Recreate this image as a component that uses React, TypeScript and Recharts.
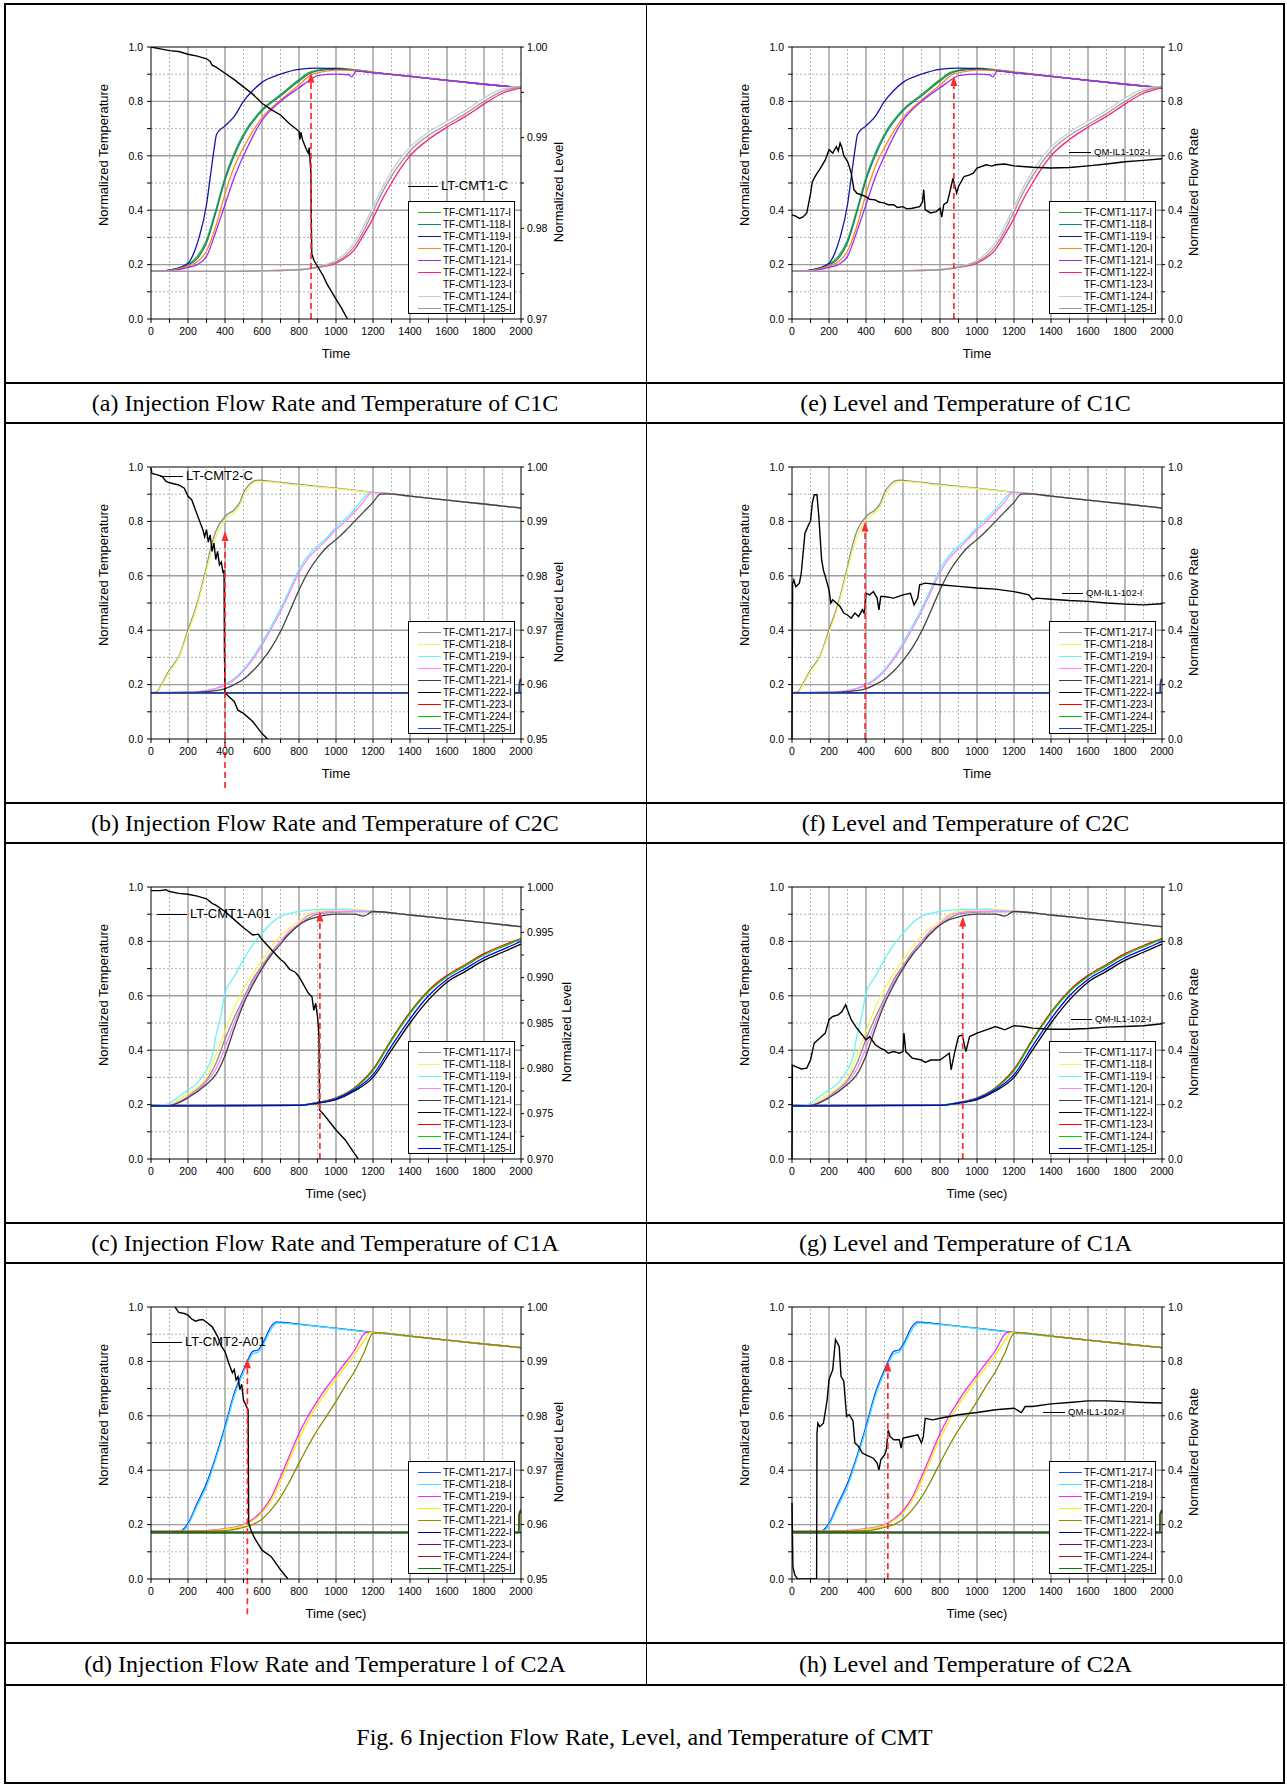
import React from "react";
import { LineChart, Line, XAxis, YAxis, ReferenceLine } from "recharts";

// ── Fig. 6 — CMT injection flow rate / level / temperature (8 panels in a table) ──

type Pt = [number, number];
type Series = { name: string; color: string; pts: Pt[] };

const FONT = '"Liberation Sans", Arial, Helvetica, sans-serif';
const SERIF = '"Liberation Serif", "Times New Roman", Times, serif';
const RED = "#ff2a2a";

// axes / ticks
const TIME_TICKS = [0, 100, 200, 300, 400, 500, 600, 700, 800, 900, 1000, 1100, 1200, 1300, 1400, 1500, 1600, 1700, 1800, 1900, 2000];
const TIME_LABELS = [0, 200, 400, 600, 800, 1000, 1200, 1400, 1600, 1800, 2000];
const UNIT_TICKS = [0, 0.1, 0.2, 0.3, 0.4, 0.5, 0.6, 0.7, 0.8, 0.9, 1.0];
const UNIT_LABELS = [0, 0.2, 0.4, 0.6, 0.8, 1.0];
const LEVEL_TICKS_C1C = [0.97, 0.975, 0.98, 0.985, 0.99, 0.995, 1.0];
const LEVEL_LABELS_C1C = [0.97, 0.98, 0.99, 1.0];
const LEVEL_TICKS_C2 = [0.95, 0.955, 0.96, 0.965, 0.97, 0.975, 0.98, 0.985, 0.99, 0.995, 1.0];
const LEVEL_LABELS_C2 = [0.95, 0.96, 0.97, 0.98, 0.99, 1.0];
const LEVEL_TICKS_C1A = [0.97, 0.9725, 0.975, 0.9775, 0.98, 0.9825, 0.985, 0.9875, 0.99, 0.9925, 0.995, 0.9975, 1.0];
const LEVEL_LABELS_C1A = [0.97, 0.975, 0.98, 0.985, 0.99, 0.995, 1.0];

const GRID_X_MAJOR = [200, 400, 600, 800, 1000, 1200, 1400, 1600, 1800];
const GRID_X_MINOR = [100, 300, 500, 700, 900, 1100, 1300, 1500, 1700, 1900];
const GRID_Y_MAJOR = [0.2, 0.4, 0.6, 0.8];
const GRID_Y_MINOR = [0.1, 0.3, 0.5, 0.7, 0.9];

// ── C1C temperatures (a, e) ──
const C1C_117: Pt[] = [[0, 0.175], [100, 0.18], [200, 0.2], [250, 0.23], [300, 0.29], [350, 0.4], [400, 0.52], [450, 0.61], [500, 0.68], [600, 0.77], [700, 0.825], [800, 0.88], [850, 0.905], [900, 0.915], [1000, 0.922], [1100, 0.917], [1200, 0.908], [1400, 0.893], [1600, 0.878], [1800, 0.864], [2000, 0.851]];
const C1C_118: Pt[] = [[0, 0.175], [100, 0.18], [200, 0.198], [250, 0.222], [300, 0.28], [350, 0.39], [400, 0.51], [450, 0.6], [500, 0.672], [600, 0.765], [700, 0.82], [800, 0.875], [850, 0.9], [900, 0.912], [1000, 0.919], [1100, 0.915], [1200, 0.906], [1400, 0.892], [1600, 0.877], [1800, 0.863], [2000, 0.851]];
const C1C_119: Pt[] = [[0, 0.175], [100, 0.18], [200, 0.205], [230, 0.24], [260, 0.3], [300, 0.42], [320, 0.52], [340, 0.62], [355, 0.68], [400, 0.71], [450, 0.745], [500, 0.8], [550, 0.84], [600, 0.87], [700, 0.9], [800, 0.918], [900, 0.922], [1000, 0.92], [1100, 0.913], [1200, 0.906], [1400, 0.892], [1600, 0.877], [1800, 0.863], [2000, 0.85]];
const C1C_120: Pt[] = [[0, 0.175], [100, 0.178], [200, 0.195], [250, 0.21], [300, 0.25], [350, 0.34], [400, 0.46], [450, 0.56], [500, 0.63], [600, 0.74], [700, 0.805], [800, 0.86], [870, 0.9], [900, 0.905], [1000, 0.915], [1100, 0.915], [1200, 0.907], [1400, 0.892], [1600, 0.877], [1800, 0.863], [2000, 0.851]];
const C1C_121: Pt[] = [[0, 0.175], [100, 0.177], [200, 0.19], [250, 0.2], [300, 0.23], [350, 0.32], [400, 0.42], [450, 0.52], [500, 0.6], [600, 0.73], [700, 0.8], [800, 0.85], [880, 0.888], [900, 0.895], [1000, 0.9], [1070, 0.898], [1085, 0.89], [1110, 0.912], [1200, 0.906], [1400, 0.892], [1600, 0.877], [1800, 0.863], [2000, 0.85]];
const C1C_122: Pt[] = [[0, 0.175], [400, 0.175], [600, 0.177], [800, 0.181], [900, 0.19], [1000, 0.205], [1050, 0.225], [1100, 0.255], [1150, 0.31], [1200, 0.37], [1250, 0.44], [1300, 0.5], [1350, 0.555], [1400, 0.6], [1500, 0.66], [1600, 0.705], [1700, 0.745], [1800, 0.79], [1900, 0.83], [2000, 0.85]];
const C1C_123: Pt[] = [[0, 0.175], [400, 0.175], [600, 0.177], [800, 0.182], [900, 0.192], [1000, 0.213], [1050, 0.237], [1100, 0.275], [1150, 0.335], [1200, 0.405], [1250, 0.475], [1300, 0.535], [1350, 0.585], [1400, 0.627], [1500, 0.682], [1600, 0.722], [1700, 0.762], [1800, 0.807], [1900, 0.843], [2000, 0.854]];
const C1C_124: Pt[] = [[0, 0.175], [400, 0.175], [600, 0.177], [800, 0.182], [900, 0.193], [1000, 0.216], [1050, 0.242], [1100, 0.282], [1150, 0.342], [1200, 0.412], [1250, 0.482], [1300, 0.542], [1350, 0.592], [1400, 0.632], [1500, 0.687], [1600, 0.727], [1700, 0.767], [1800, 0.812], [1900, 0.846], [2000, 0.855]];
const C1C_125: Pt[] = [[0, 0.175], [400, 0.175], [600, 0.177], [800, 0.181], [900, 0.191], [1000, 0.21], [1050, 0.232], [1100, 0.268], [1150, 0.325], [1200, 0.395], [1250, 0.465], [1300, 0.525], [1350, 0.575], [1400, 0.618], [1500, 0.675], [1600, 0.715], [1700, 0.755], [1800, 0.8], [1900, 0.838], [2000, 0.853]];

// ── C2C temperatures (b, f) ──
const C2C_217: Pt[] = [[0, 0.17], [30, 0.172], [60, 0.205], [100, 0.254], [150, 0.303], [200, 0.401], [250, 0.5], [300, 0.634], [330, 0.72], [350, 0.763], [400, 0.818], [450, 0.843], [480, 0.87], [500, 0.905], [530, 0.935], [560, 0.95], [580, 0.952], [600, 0.951], [800, 0.936], [1000, 0.922], [1200, 0.907], [1400, 0.893], [1600, 0.878], [1800, 0.864], [2000, 0.849]];
const C2C_218: Pt[] = [[0, 0.17], [30, 0.17], [60, 0.2], [100, 0.248], [150, 0.298], [200, 0.39], [250, 0.49], [300, 0.62], [330, 0.7], [350, 0.74], [400, 0.805], [450, 0.833], [480, 0.86], [500, 0.89], [530, 0.925], [560, 0.943], [600, 0.946], [800, 0.933], [1000, 0.92], [1200, 0.906], [1400, 0.892], [1600, 0.878], [1800, 0.864], [2000, 0.849]];
const C2C_219: Pt[] = [[0, 0.17], [200, 0.172], [300, 0.178], [400, 0.2], [450, 0.222], [500, 0.256], [550, 0.3], [600, 0.355], [650, 0.415], [700, 0.48], [750, 0.55], [800, 0.625], [850, 0.675], [900, 0.71], [950, 0.74], [1000, 0.78], [1050, 0.81], [1100, 0.845], [1150, 0.885], [1180, 0.905], [1200, 0.907], [1400, 0.893], [1600, 0.878], [1800, 0.864], [2000, 0.849]];
const C2C_220: Pt[] = [[0, 0.17], [200, 0.172], [300, 0.178], [400, 0.198], [450, 0.218], [500, 0.25], [550, 0.292], [600, 0.345], [650, 0.405], [700, 0.468], [750, 0.54], [800, 0.612], [850, 0.665], [900, 0.7], [950, 0.733], [1000, 0.77], [1050, 0.8], [1100, 0.835], [1150, 0.872], [1190, 0.906], [1200, 0.907], [1400, 0.893], [1600, 0.878], [1800, 0.864], [2000, 0.849]];
const C2C_221: Pt[] = [[0, 0.17], [200, 0.171], [300, 0.174], [400, 0.185], [450, 0.2], [500, 0.22], [550, 0.25], [600, 0.288], [650, 0.335], [700, 0.395], [750, 0.47], [800, 0.548], [850, 0.615], [900, 0.665], [950, 0.705], [1000, 0.733], [1050, 0.765], [1100, 0.8], [1150, 0.835], [1200, 0.87], [1240, 0.9], [1280, 0.901], [1400, 0.893], [1600, 0.878], [1800, 0.864], [2000, 0.849]];
const C2C_222: Pt[] = [[0, 0.17], [1000, 0.17], [2000, 0.17]];
const C2C_223: Pt[] = [[0, 0.17], [1000, 0.17], [1990, 0.17], [1992, 0.214], [2000, 0.222]];
const C2C_224: Pt[] = [[0, 0.17], [1000, 0.17], [1990, 0.17], [1992, 0.21], [2000, 0.218]];
const C2C_225: Pt[] = [[0, 0.17], [1000, 0.17], [1990, 0.17], [1992, 0.207], [2000, 0.215]];

// ── C1A temperatures (c, g) ──
const C1A_117: Pt[] = [[0, 0.195], [100, 0.198], [200, 0.23], [250, 0.258], [300, 0.29], [350, 0.35], [400, 0.44], [450, 0.52], [500, 0.59], [550, 0.66], [600, 0.71], [650, 0.76], [700, 0.8], [750, 0.83], [800, 0.86], [850, 0.885], [900, 0.9], [1000, 0.908], [1100, 0.91], [1200, 0.91], [1400, 0.897], [1600, 0.883], [1800, 0.869], [2000, 0.854]];
const C1A_118: Pt[] = [[0, 0.195], [100, 0.2], [200, 0.24], [250, 0.262], [300, 0.3], [350, 0.38], [400, 0.47], [450, 0.555], [500, 0.625], [550, 0.68], [600, 0.73], [650, 0.78], [700, 0.82], [750, 0.85], [800, 0.875], [850, 0.9], [900, 0.91], [1000, 0.915], [1050, 0.92], [1100, 0.918], [1200, 0.912], [1400, 0.897], [1600, 0.883], [1800, 0.869], [2000, 0.854]];
const C1A_119: Pt[] = [[0, 0.195], [80, 0.2], [100, 0.205], [150, 0.23], [200, 0.254], [250, 0.279], [300, 0.328], [330, 0.377], [350, 0.45], [380, 0.536], [400, 0.61], [450, 0.671], [500, 0.733], [550, 0.788], [600, 0.83], [650, 0.867], [700, 0.892], [800, 0.91], [900, 0.917], [1000, 0.918], [1100, 0.915], [1200, 0.91], [1400, 0.897], [1600, 0.883], [1800, 0.869], [2000, 0.854]];
const C1A_120: Pt[] = [[0, 0.195], [100, 0.198], [200, 0.228], [300, 0.285], [350, 0.33], [400, 0.41], [450, 0.5], [500, 0.58], [550, 0.65], [600, 0.705], [650, 0.755], [700, 0.8], [750, 0.84], [800, 0.865], [850, 0.895], [900, 0.905], [1000, 0.91], [1200, 0.91], [1400, 0.897], [1600, 0.883], [1800, 0.869], [2000, 0.854]];
const C1A_121: Pt[] = [[0, 0.195], [100, 0.197], [200, 0.225], [300, 0.275], [350, 0.31], [400, 0.38], [450, 0.48], [500, 0.57], [550, 0.64], [600, 0.7], [650, 0.75], [700, 0.79], [750, 0.83], [800, 0.86], [850, 0.88], [900, 0.89], [1000, 0.9], [1100, 0.9], [1150, 0.893], [1200, 0.91], [1400, 0.897], [1600, 0.883], [1800, 0.869], [2000, 0.854]];
const C1A_122: Pt[] = [[0, 0.195], [800, 0.197], [900, 0.205], [1000, 0.218], [1100, 0.25], [1200, 0.3], [1300, 0.4], [1400, 0.5], [1500, 0.585], [1600, 0.65], [1700, 0.69], [1800, 0.73], [1900, 0.76], [2000, 0.79]];
const C1A_123: Pt[] = [[0, 0.195], [800, 0.198], [900, 0.208], [1000, 0.225], [1100, 0.262], [1200, 0.33], [1300, 0.44], [1400, 0.54], [1500, 0.62], [1600, 0.675], [1700, 0.715], [1800, 0.755], [1900, 0.785], [2000, 0.81]];
const C1A_124: Pt[] = [[0, 0.195], [800, 0.198], [900, 0.207], [1000, 0.223], [1100, 0.26], [1200, 0.325], [1300, 0.435], [1400, 0.535], [1500, 0.615], [1600, 0.67], [1700, 0.71], [1800, 0.75], [1900, 0.78], [2000, 0.808]];
const C1A_125: Pt[] = [[0, 0.195], [800, 0.197], [900, 0.206], [1000, 0.221], [1100, 0.255], [1200, 0.31], [1300, 0.415], [1400, 0.515], [1500, 0.6], [1600, 0.66], [1700, 0.7], [1800, 0.74], [1900, 0.77], [2000, 0.8]];

// ── C2A temperatures (d, h) ──
const C2A_217: Pt[] = [[0, 0.175], [150, 0.175], [170, 0.18], [200, 0.205], [250, 0.279], [300, 0.352], [350, 0.45], [400, 0.561], [450, 0.683], [500, 0.769], [520, 0.8], [550, 0.837], [580, 0.843], [600, 0.861], [650, 0.929], [680, 0.945], [700, 0.944], [800, 0.937], [1000, 0.922], [1200, 0.907], [1400, 0.893], [1600, 0.878], [1800, 0.864], [2000, 0.851]];
const C2A_218: Pt[] = [[0, 0.175], [160, 0.175], [180, 0.18], [200, 0.198], [250, 0.27], [300, 0.34], [350, 0.44], [400, 0.55], [450, 0.672], [500, 0.76], [520, 0.79], [550, 0.827], [580, 0.835], [600, 0.853], [650, 0.918], [680, 0.94], [700, 0.941], [800, 0.935], [1000, 0.921], [1200, 0.906], [1400, 0.892], [1600, 0.878], [1800, 0.864], [2000, 0.85]];
const C2A_219: Pt[] = [[0, 0.175], [300, 0.178], [400, 0.185], [500, 0.2], [550, 0.22], [600, 0.25], [650, 0.3], [700, 0.375], [750, 0.455], [800, 0.535], [850, 0.6], [900, 0.655], [950, 0.705], [1000, 0.75], [1050, 0.795], [1100, 0.84], [1150, 0.9], [1170, 0.908], [1200, 0.907], [1400, 0.893], [1600, 0.878], [1800, 0.864], [2000, 0.851]];
const C2A_220: Pt[] = [[0, 0.175], [300, 0.177], [400, 0.183], [500, 0.197], [550, 0.215], [600, 0.243], [650, 0.29], [700, 0.36], [750, 0.44], [800, 0.515], [850, 0.583], [900, 0.64], [950, 0.69], [1000, 0.735], [1050, 0.78], [1100, 0.825], [1150, 0.875], [1185, 0.907], [1200, 0.907], [1400, 0.893], [1600, 0.878], [1800, 0.864], [2000, 0.851]];
const C2A_221: Pt[] = [[0, 0.175], [400, 0.178], [500, 0.19], [550, 0.2], [600, 0.22], [650, 0.255], [700, 0.3], [750, 0.36], [800, 0.426], [850, 0.49], [900, 0.548], [950, 0.6], [1000, 0.653], [1050, 0.71], [1100, 0.763], [1150, 0.83], [1200, 0.904], [1220, 0.906], [1400, 0.893], [1600, 0.878], [1800, 0.864], [2000, 0.851]];
const C2A_222: Pt[] = [[0, 0.171], [1000, 0.171], [2000, 0.171]];
const C2A_223: Pt[] = [[0, 0.171], [1000, 0.171], [1988, 0.171], [1990, 0.238], [2000, 0.248]];
const C2A_224: Pt[] = [[0, 0.171], [1000, 0.171], [1988, 0.171], [1990, 0.242], [2000, 0.255]];
const C2A_225: Pt[] = [[0, 0.171], [1000, 0.171], [1988, 0.171], [1990, 0.236], [2000, 0.246]];

// ── CMT level (right axis, a–d) ──
const LT_CMT1_C: Pt[] = [[0, 1.0], [50, 0.9998], [100, 0.9996], [150, 0.9995], [200, 0.9992], [250, 0.999], [300, 0.9987], [320, 0.9984], [330, 0.998], [350, 0.9978], [400, 0.9971], [450, 0.9964], [500, 0.9956], [550, 0.9948], [600, 0.9938], [650, 0.9931], [700, 0.9925], [750, 0.9915], [800, 0.9907], [805, 0.9898], [810, 0.9906], [820, 0.9897], [840, 0.9887], [850, 0.9883], [855, 0.9889], [860, 0.9875], [864, 0.9862], [866, 0.982], [869, 0.9772], [880, 0.9765], [900, 0.9758], [930, 0.9748], [950, 0.9739], [1000, 0.9722], [1030, 0.9712], [1062, 0.97]];
const LT_CMT2_C: Pt[] = [[0, 0.9998], [5, 0.9988], [30, 0.9986], [60, 0.9983], [80, 0.9974], [100, 0.9971], [150, 0.9967], [180, 0.9961], [200, 0.9946], [220, 0.994], [250, 0.9912], [280, 0.9885], [290, 0.9872], [300, 0.9885], [310, 0.9862], [320, 0.9875], [330, 0.9845], [340, 0.986], [350, 0.983], [360, 0.9845], [370, 0.982], [380, 0.9825], [390, 0.9805], [395, 0.981], [397, 0.966], [400, 0.9585], [420, 0.9578], [450, 0.9569], [470, 0.9553], [500, 0.9547], [550, 0.9532], [600, 0.951], [630, 0.95]];
const LT_CMT1_A01: Pt[] = [[0, 0.9996], [50, 0.9996], [80, 0.9997], [100, 0.9995], [150, 0.9993], [200, 0.9992], [250, 0.999], [300, 0.9987], [330, 0.9982], [350, 0.998], [400, 0.9973], [450, 0.9964], [500, 0.9955], [520, 0.9952], [550, 0.9947], [580, 0.9948], [600, 0.9942], [650, 0.9931], [700, 0.992], [720, 0.9917], [750, 0.9909], [780, 0.9906], [800, 0.9901], [820, 0.9894], [850, 0.9883], [870, 0.9879], [880, 0.9864], [890, 0.9872], [900, 0.9857], [905, 0.9846], [908, 0.9835], [911, 0.9754], [930, 0.975], [950, 0.9745], [1000, 0.9732], [1050, 0.9721], [1100, 0.9706], [1120, 0.97]];
const LT_CMT2_A01: Pt[] = [[130, 1.0], [150, 0.999], [180, 0.9988], [200, 0.9985], [220, 0.9978], [240, 0.9974], [260, 0.9976], [280, 0.9977], [300, 0.9972], [330, 0.9964], [360, 0.9946], [380, 0.9928], [400, 0.9918], [420, 0.9897], [440, 0.9879], [450, 0.9885], [460, 0.9866], [470, 0.9872], [480, 0.9848], [490, 0.9858], [500, 0.9829], [510, 0.9822], [520, 0.9814], [525, 0.9811], [528, 0.9603], [540, 0.959], [560, 0.9575], [600, 0.9553], [650, 0.9541], [700, 0.9517], [740, 0.95]];

// ── injection flow rate (right axis, e–h) ──
const QM_C1C: Pt[] = [[0, 0.383], [20, 0.378], [40, 0.37], [60, 0.375], [80, 0.39], [100, 0.46], [110, 0.505], [130, 0.53], [150, 0.55], [180, 0.585], [200, 0.622], [220, 0.61], [240, 0.634], [250, 0.618], [260, 0.647], [270, 0.63], [280, 0.6], [300, 0.58], [310, 0.56], [320, 0.536], [335, 0.475], [350, 0.463], [380, 0.455], [400, 0.45], [420, 0.44], [450, 0.438], [470, 0.43], [500, 0.426], [520, 0.42], [550, 0.42], [570, 0.41], [600, 0.413], [620, 0.405], [650, 0.407], [690, 0.413], [705, 0.43], [712, 0.475], [720, 0.401], [750, 0.39], [780, 0.395], [800, 0.407], [810, 0.375], [820, 0.42], [840, 0.43], [860, 0.487], [870, 0.518], [880, 0.49], [890, 0.463], [900, 0.487], [930, 0.524], [960, 0.53], [980, 0.536], [1000, 0.555], [1050, 0.567], [1080, 0.562], [1100, 0.567], [1150, 0.57], [1200, 0.563], [1300, 0.558], [1400, 0.555], [1500, 0.557], [1600, 0.563], [1700, 0.57], [1800, 0.578], [1900, 0.583], [2000, 0.589]];
const QM_C2C: Pt[] = [[0, 0], [3, 0.57], [10, 0.585], [20, 0.56], [40, 0.573], [50, 0.61], [70, 0.757], [90, 0.788], [100, 0.8], [110, 0.868], [120, 0.898], [135, 0.898], [145, 0.818], [160, 0.66], [170, 0.62], [180, 0.598], [200, 0.548], [210, 0.5], [220, 0.512], [240, 0.5], [260, 0.487], [280, 0.463], [300, 0.456], [320, 0.444], [340, 0.463], [360, 0.45], [380, 0.475], [390, 0.463], [400, 0.536], [420, 0.53], [440, 0.542], [460, 0.518], [470, 0.475], [480, 0.524], [500, 0.524], [550, 0.518], [600, 0.53], [640, 0.536], [660, 0.493], [680, 0.518], [690, 0.567], [720, 0.573], [800, 0.567], [900, 0.561], [1000, 0.555], [1100, 0.551], [1200, 0.542], [1280, 0.53], [1300, 0.512], [1320, 0.518], [1400, 0.514], [1500, 0.509], [1600, 0.506], [1700, 0.5], [1800, 0.496], [1900, 0.493], [2000, 0.497]];
const QM_C1A: Pt[] = [[0, 0], [2, 0.345], [20, 0.34], [50, 0.331], [80, 0.334], [100, 0.364], [120, 0.426], [150, 0.444], [180, 0.463], [200, 0.512], [220, 0.524], [250, 0.53], [270, 0.542], [290, 0.567], [300, 0.548], [320, 0.512], [350, 0.481], [380, 0.456], [400, 0.438], [420, 0.45], [450, 0.42], [480, 0.407], [500, 0.401], [520, 0.389], [550, 0.395], [580, 0.389], [600, 0.395], [605, 0.463], [615, 0.395], [650, 0.371], [700, 0.364], [720, 0.355], [750, 0.364], [800, 0.364], [850, 0.389], [860, 0.328], [880, 0.395], [900, 0.45], [920, 0.456], [940, 0.395], [960, 0.45], [1000, 0.463], [1050, 0.475], [1100, 0.487], [1150, 0.475], [1200, 0.49], [1250, 0.487], [1300, 0.481], [1400, 0.477], [1500, 0.477], [1600, 0.48], [1700, 0.485], [1800, 0.487], [1900, 0.49], [2000, 0.497]];
const QM_C2A: Pt[] = [[0, 0.28], [5, 0.045], [15, 0.015], [25, 0.005], [30, 0], [133, 0], [135, 0.536], [140, 0.573], [150, 0.56], [170, 0.573], [190, 0.659], [200, 0.733], [220, 0.769], [235, 0.88], [245, 0.868], [255, 0.855], [265, 0.745], [280, 0.727], [295, 0.598], [310, 0.604], [330, 0.58], [340, 0.5], [360, 0.487], [380, 0.463], [400, 0.456], [420, 0.45], [440, 0.444], [460, 0.426], [470, 0.401], [480, 0.438], [500, 0.456], [510, 0.475], [520, 0.548], [530, 0.524], [550, 0.512], [580, 0.512], [590, 0.481], [600, 0.518], [640, 0.524], [680, 0.53], [700, 0.5], [710, 0.524], [720, 0.591], [760, 0.585], [800, 0.591], [900, 0.604], [1000, 0.612], [1100, 0.622], [1200, 0.628], [1240, 0.612], [1260, 0.634], [1300, 0.634], [1400, 0.644], [1500, 0.649], [1600, 0.655], [1700, 0.655], [1800, 0.652], [1900, 0.649], [2000, 0.647]];

// ── red dashed markers: time, from, to (temperature units) ──
const ARROW_A = { t: 865, from: 0, to: 0.905 };
const ARROW_B = { t: 400, from: -0.18, to: 0.765 };
const ARROW_C = { t: 913, from: 0, to: 0.91 };
const ARROW_D = { t: 521, from: -0.13, to: 0.812 };
const ARROW_E = { t: 875, from: 0, to: 0.893 };
const ARROW_F = { t: 395, from: 0, to: 0.8 };
const ARROW_G = { t: 923, from: 0, to: 0.892 };
const ARROW_H = { t: 518, from: 0, to: 0.8 };

const SET_C1C: Series[] = [
  { name: "TF-CMT1-117-I", color: "#2fa52f", pts: C1C_117 },
  { name: "TF-CMT1-118-I", color: "#0a8a7c", pts: C1C_118 },
  { name: "TF-CMT1-119-I", color: "#1616a6", pts: C1C_119 },
  { name: "TF-CMT1-120-I", color: "#ff8a1a", pts: C1C_120 },
  { name: "TF-CMT1-121-I", color: "#9a2cff", pts: C1C_121 },
  { name: "TF-CMT1-122-I", color: "#ff1a88", pts: C1C_122 },
  { name: "TF-CMT1-123-I", color: "#ffffff", pts: C1C_123 },
  { name: "TF-CMT1-124-I", color: "#cccccc", pts: C1C_124 },
  { name: "TF-CMT1-125-I", color: "#999999", pts: C1C_125 },
];
const SET_C2C: Series[] = [
  { name: "TF-CMT1-217-I", color: "#8c8c8c", pts: C2C_217 },
  { name: "TF-CMT1-218-I", color: "#f5f55a", pts: C2C_218 },
  { name: "TF-CMT1-219-I", color: "#66f4f4", pts: C2C_219 },
  { name: "TF-CMT1-220-I", color: "#ff80ff", pts: C2C_220 },
  { name: "TF-CMT1-221-I", color: "#404040", pts: C2C_221 },
  { name: "TF-CMT1-222-I", color: "#000000", pts: C2C_222 },
  { name: "TF-CMT1-223-I", color: "#ff0000", pts: C2C_223 },
  { name: "TF-CMT1-224-I", color: "#00cc00", pts: C2C_224 },
  { name: "TF-CMT1-225-I", color: "#2038c8", pts: C2C_225 },
];
const SET_C1A: Series[] = [
  { name: "TF-CMT1-117-I", color: "#8c8c8c", pts: C1A_117 },
  { name: "TF-CMT1-118-I", color: "#f5f55a", pts: C1A_118 },
  { name: "TF-CMT1-119-I", color: "#66f4f4", pts: C1A_119 },
  { name: "TF-CMT1-120-I", color: "#ff80ff", pts: C1A_120 },
  { name: "TF-CMT1-121-I", color: "#404040", pts: C1A_121 },
  { name: "TF-CMT1-122-I", color: "#000000", pts: C1A_122 },
  { name: "TF-CMT1-123-I", color: "#ff0000", pts: C1A_123 },
  { name: "TF-CMT1-124-I", color: "#00d000", pts: C1A_124 },
  { name: "TF-CMT1-125-I", color: "#0000ff", pts: C1A_125 },
];
const SET_C2A: Series[] = [
  { name: "TF-CMT1-217-I", color: "#1a3cff", pts: C2A_217 },
  { name: "TF-CMT1-218-I", color: "#33e4ff", pts: C2A_218 },
  { name: "TF-CMT1-219-I", color: "#ff22ff", pts: C2A_219 },
  { name: "TF-CMT1-220-I", color: "#f0f000", pts: C2A_220 },
  { name: "TF-CMT1-221-I", color: "#8c8c00", pts: C2A_221 },
  { name: "TF-CMT1-222-I", color: "#000080", pts: C2A_222 },
  { name: "TF-CMT1-223-I", color: "#800080", pts: C2A_223 },
  { name: "TF-CMT1-224-I", color: "#a01c1c", pts: C2A_224 },
  { name: "TF-CMT1-225-I", color: "#008000", pts: C2A_225 },
];

interface PanelCfg {
  col: 0 | 1;
  row: number;
  temps: Series[];
  black: Pt[];
  blackName: string;
  blackTag: { dx: number; dy: number; len: number; size: number };
  rightDomain: [number, number];
  rightTicks: number[];
  rightLabels: number[];
  rightDigits: number;
  rightTitle: string;
  rightTitleDx: number;
  xTitle: string;
  arrow: { t: number; from: number; to: number };
  caption: string;
}

const PANELS: PanelCfg[] = [
  { col: 0, row: 0, temps: SET_C1C, black: LT_CMT1_C, blackName: "LT-CMT1-C", blackTag: { dx: 257, dy: 139, len: 30, size: 13 }, rightDomain: [0.97, 1.0], rightTicks: LEVEL_TICKS_C1C, rightLabels: LEVEL_LABELS_C1C, rightDigits: 2, rightTitle: "Normalized Level", rightTitleDx: 37, xTitle: "Time", arrow: ARROW_A, caption: "(a) Injection Flow Rate and Temperature of C1C" },
  { col: 1, row: 0, temps: SET_C1C, black: QM_C1C, blackName: "QM-IL1-102-I", blackTag: { dx: 277, dy: 105, len: 22, size: 9.5 }, rightDomain: [0, 1], rightTicks: UNIT_TICKS, rightLabels: UNIT_LABELS, rightDigits: 1, rightTitle: "Normalized Flow Rate", rightTitleDx: 31, xTitle: "Time", arrow: ARROW_E, caption: "(e) Level and Temperature of C1C" },
  { col: 0, row: 1, temps: SET_C2C, black: LT_CMT2_C, blackName: "LT-CMT2-C", blackTag: { dx: 9, dy: 9, len: 23, size: 13 }, rightDomain: [0.95, 1.0], rightTicks: LEVEL_TICKS_C2, rightLabels: LEVEL_LABELS_C2, rightDigits: 2, rightTitle: "Normalized Level", rightTitleDx: 37, xTitle: "Time", arrow: ARROW_B, caption: "(b) Injection Flow Rate and Temperature of C2C" },
  { col: 1, row: 1, temps: SET_C2C, black: QM_C2C, blackName: "QM-IL1-102-I", blackTag: { dx: 270, dy: 126, len: 21, size: 9.5 }, rightDomain: [0, 1], rightTicks: UNIT_TICKS, rightLabels: UNIT_LABELS, rightDigits: 1, rightTitle: "Normalized Flow Rate", rightTitleDx: 31, xTitle: "Time", arrow: ARROW_F, caption: "(f) Level and Temperature of C2C" },
  { col: 0, row: 2, temps: SET_C1A, black: LT_CMT1_A01, blackName: "LT-CMT1-A01", blackTag: { dx: 6, dy: 27, len: 30, size: 13 }, rightDomain: [0.97, 1.0], rightTicks: LEVEL_TICKS_C1A, rightLabels: LEVEL_LABELS_C1A, rightDigits: 3, rightTitle: "Normalized Level", rightTitleDx: 45, xTitle: "Time (sec)", arrow: ARROW_C, caption: "(c) Injection Flow Rate and Temperature of C1A" },
  { col: 1, row: 2, temps: SET_C1A, black: QM_C1A, blackName: "QM-IL1-102-I", blackTag: { dx: 279, dy: 132, len: 21, size: 9.5 }, rightDomain: [0, 1], rightTicks: UNIT_TICKS, rightLabels: UNIT_LABELS, rightDigits: 1, rightTitle: "Normalized Flow Rate", rightTitleDx: 31, xTitle: "Time (sec)", arrow: ARROW_G, caption: "(g) Level and Temperature of C1A" },
  { col: 0, row: 3, temps: SET_C2A, black: LT_CMT2_A01, blackName: "LT-CMT2-A01", blackTag: { dx: 1, dy: 35, len: 30, size: 13 }, rightDomain: [0.95, 1.0], rightTicks: LEVEL_TICKS_C2, rightLabels: LEVEL_LABELS_C2, rightDigits: 2, rightTitle: "Normalized Level", rightTitleDx: 37, xTitle: "Time (sec)", arrow: ARROW_D, caption: "(d) Injection Flow Rate and Temperature l of C2A" },
  { col: 1, row: 3, temps: SET_C2A, black: QM_C2A, blackName: "QM-IL1-102-I", blackTag: { dx: 251, dy: 105, len: 22, size: 9.5 }, rightDomain: [0, 1], rightTicks: UNIT_TICKS, rightLabels: UNIT_LABELS, rightDigits: 1, rightTitle: "Normalized Flow Rate", rightTitleDx: 31, xTitle: "Time (sec)", arrow: ARROW_H, caption: "(h) Level and Temperature of C2A" },
];

const toRows = (pts: Pt[]) => pts.map(([t, v]) => ({ t, v }));
const hasLabel = (list: number[], v: number) => list.some((l) => Math.abs(l - v) < 1e-7);

// dashed red marker with an arrowhead at the top end
function ArrowShape(props: any) {
  const { x1, y1, y2 } = props;
  const top = Math.min(y1, y2);
  const bottom = Math.max(y1, y2);
  const head = 10;
  return (
    <g>
      <line x1={x1} y1={bottom} x2={x1} y2={top + head - 1} stroke={RED} strokeWidth={1.7} strokeDasharray="6 4" />
      <polygon points={`${x1},${top} ${x1 - 3.5},${top + head} ${x1 + 3.5},${top + head}`} fill={RED} />
    </g>
  );
}

const CELL_W = 646;
const CELL_H = 383;
const ROW_STEP = 420;
const PT = 47;
const PW = 370;
const PH = 272;
const AXIS_W = 40;
const XAXIS_H = 30;

function Panel({ p }: { p: PanelCfg }) {
  const PL = p.col === 0 ? 151 : 146;
  const margin = { top: PT, left: PL - AXIS_W, right: CELL_W - PL - PW - AXIS_W, bottom: CELL_H - PT - PH - XAXIS_H };
  const tick = { fontSize: 10.5, fill: "#000", fontFamily: FONT };
  const boxW = 107;
  const boxH = 113;
  const boxL = PL + PW - 6 - boxW;
  const boxT = PT + PH - 5 - boxH;
  const tag = p.blackTag;

  return (
    <div style={{ position: "absolute", left: p.col === 0 ? 0 : CELL_W, top: p.row * ROW_STEP, width: CELL_W, height: CELL_H }}>
      <LineChart width={CELL_W} height={CELL_H} margin={margin}>
        <XAxis
          dataKey="t"
          type="number"
          domain={[0, 2000]}
          ticks={TIME_TICKS}
          interval={0}
          tickFormatter={(v: number) => (hasLabel(TIME_LABELS, v) ? String(v) : "")}
          height={XAXIS_H}
          tick={tick}
          tickSize={4}
          tickMargin={5}
          axisLine={{ stroke: "#000" }}
          tickLine={{ stroke: "#000" }}
        />
        <YAxis
          yAxisId="l"
          orientation="left"
          type="number"
          domain={[0, 1]}
          ticks={UNIT_TICKS}
          interval={0}
          tickFormatter={(v: number) => (hasLabel(UNIT_LABELS, v) ? v.toFixed(1) : "")}
          width={AXIS_W}
          tick={tick}
          tickSize={4}
          tickMargin={4}
          axisLine={{ stroke: "#000" }}
          tickLine={{ stroke: "#000" }}
        />
        <YAxis
          yAxisId="r"
          orientation="right"
          type="number"
          domain={p.rightDomain}
          allowDataOverflow
          ticks={p.rightTicks}
          interval={0}
          tickFormatter={(v: number) => (hasLabel(p.rightLabels, v) ? v.toFixed(p.rightDigits) : "")}
          width={AXIS_W}
          tick={tick}
          tickSize={3}
          tickMargin={3}
          axisLine={{ stroke: "#000" }}
          tickLine={{ stroke: "#000" }}
        />

        {GRID_X_MINOR.map((x) => (
          <ReferenceLine key={"xm" + x} yAxisId="l" x={x} stroke="#ababab" strokeWidth={0.9} strokeDasharray="2 2" />
        ))}
        {GRID_Y_MINOR.map((y) => (
          <ReferenceLine key={"ym" + y} yAxisId="l" y={y} stroke="#ababab" strokeWidth={0.9} strokeDasharray="2 2" />
        ))}
        {GRID_X_MAJOR.map((x) => (
          <ReferenceLine key={"xM" + x} yAxisId="l" x={x} stroke="#9c9c9c" strokeWidth={1.4} />
        ))}
        {GRID_Y_MAJOR.map((y) => (
          <ReferenceLine key={"yM" + y} yAxisId="l" y={y} stroke="#9c9c9c" strokeWidth={1.4} />
        ))}

        {p.temps.map((s) => (
          <Line
            key={s.name}
            yAxisId="l"
            data={toRows(s.pts)}
            dataKey="v"
            name={s.name}
            type="monotone"
            stroke={s.color}
            strokeWidth={1.3}
            dot={false}
            isAnimationActive={false}
          />
        ))}
        <Line
          yAxisId="r"
          data={toRows(p.black)}
          dataKey="v"
          name={p.blackName}
          type="linear"
          stroke="#000"
          strokeWidth={1.4}
          dot={false}
          isAnimationActive={false}
        />

        <ReferenceLine yAxisId="l" y={1} stroke="#000" strokeWidth={1} />
        <ReferenceLine
          yAxisId="l"
          ifOverflow="visible"
          segment={[{ x: p.arrow.t, y: p.arrow.from }, { x: p.arrow.t, y: p.arrow.to }]}
          shape={ArrowShape}
        />
      </LineChart>

      {/* axis titles */}
      <div style={{ position: "absolute", left: PL - 48, top: PT + 108, transform: "translate(-50%,-50%) rotate(-90deg)", fontFamily: FONT, fontSize: 13, whiteSpace: "nowrap", color: "#000" }}>
        Normalized Temperature
      </div>
      <div style={{ position: "absolute", left: PL + PW + p.rightTitleDx, top: PT + 145, transform: "translate(-50%,-50%) rotate(-90deg)", fontFamily: FONT, fontSize: 13, whiteSpace: "nowrap", color: "#000" }}>
        {p.rightTitle}
      </div>
      <div style={{ position: "absolute", left: PL + PW / 2, top: PT + PH + 34, transform: "translate(-50%,-50%)", fontFamily: FONT, fontSize: 13, whiteSpace: "nowrap", color: "#000" }}>
        {p.xTitle}
      </div>

      {/* level / flow tag */}
      <div style={{ position: "absolute", left: PL + tag.dx, top: PT + tag.dy, width: tag.len, borderTop: "1.3px solid #000" }} />
      <div style={{ position: "absolute", left: PL + tag.dx + tag.len + 3, top: PT + tag.dy, transform: "translateY(-52%)", fontFamily: FONT, fontSize: tag.size, whiteSpace: "nowrap", color: "#000", lineHeight: 1 }}>
        {p.blackName}
      </div>

      {/* temperature legend */}
      <div style={{ position: "absolute", left: boxL, top: boxT, width: boxW, height: boxH, border: "1px solid #000", background: "#fff", boxSizing: "border-box" }}>
        {p.temps.map((s, i) => (
          <React.Fragment key={s.name}>
            <div style={{ position: "absolute", left: 9, top: 10.3 + 12 * i, width: 23, borderTop: `1.5px solid ${s.color}` }} />
            <div style={{ position: "absolute", left: 34, top: 11 + 12 * i, transform: "translateY(-50%)", fontFamily: FONT, fontSize: 10, lineHeight: 1, whiteSpace: "nowrap", color: "#000" }}>
              {s.name}
            </div>
          </React.Fragment>
        ))}
      </div>
    </div>
  );
}

// table rules
const H_RULES = [383, 423, 803, 843, 1223, 1263, 1643, 1685];
const CAPTION_ROWS = [403, 823, 1243, 1664];

export default function App() {
  return (
    <div style={{ position: "absolute", left: 0, top: 0, width: 1287, height: 1786, background: "#fff", overflow: "hidden" }}>
      {PANELS.map((p) => (
        <Panel key={p.caption} p={p} />
      ))}

      {/* outer frame */}
      <div style={{ position: "absolute", left: 4, top: 3, width: 1281, height: 1781, border: "2px solid #000", boxSizing: "border-box" }} />
      <div style={{ position: "absolute", left: 645.5, top: 3, width: 1.3, height: 1683, background: "#000" }} />
      {H_RULES.map((y) => (
        <div key={y} style={{ position: "absolute", left: 4, top: y - 1.2, width: 1281, height: 2.5, background: "#000" }} />
      ))}

      {PANELS.map((p) => (
        <div
          key={"cap" + p.caption}
          style={{
            position: "absolute",
            left: p.col === 0 ? 4 : 646,
            width: p.col === 0 ? 642 : 639,
            top: CAPTION_ROWS[p.row],
            transform: "translateY(-50%)",
            textAlign: "center",
            fontFamily: SERIF,
            fontSize: 24,
            lineHeight: 1,
            whiteSpace: "nowrap",
            color: "#000",
          }}
        >
          {p.caption}
        </div>
      ))}
      <div style={{ position: "absolute", left: 4, width: 1281, top: 1737, transform: "translateY(-50%)", textAlign: "center", fontFamily: SERIF, fontSize: 24, lineHeight: 1, color: "#000" }}>
        Fig. 6 Injection Flow Rate, Level, and Temperature of CMT
      </div>
    </div>
  );
}
